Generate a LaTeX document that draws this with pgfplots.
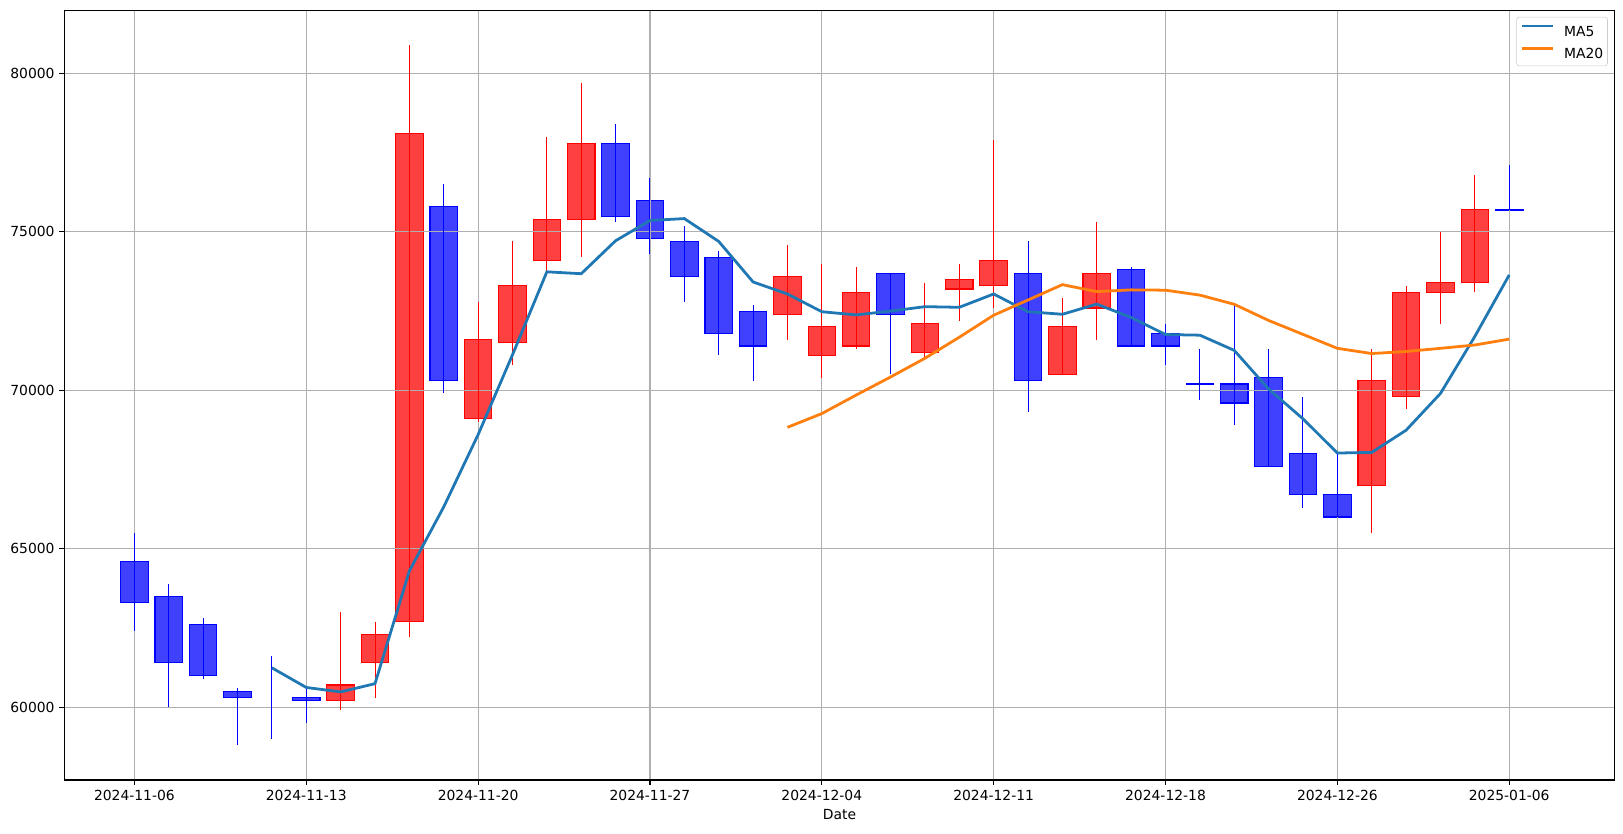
\documentclass[border=0pt]{standalone}
\usepackage{pgfplots}
\pgfplotsset{compat=1.18}
\usepackage{pgfplotstable}
\usepackage{fontspec}
\setmainfont{DejaVu Sans}
\definecolor{tabblue}{HTML}{1F77B4}
\definecolor{taborange}{HTML}{FF7F0E}
\definecolor{gridgray}{HTML}{B0B0B0}
\definecolor{upedge}{HTML}{FF0000}
\definecolor{upfill}{HTML}{FF4040}
\definecolor{dnedge}{HTML}{0000FF}
\definecolor{dnfill}{HTML}{4040FF}

% rising candles (red)
\pgfplotstableread{
x open high low close
6 60200 63000 59900 60700
7 61400 62700 60300 62300
8 62700 80900 62200 78100
10 69100 72800 69000 71600
11 71500 74700 70800 73300
12 74100 78000 73600 75400
13 75400 79700 74200 77800
19 72400 74600 71600 73600
20 71100 74000 70400 72000
21 71400 73900 71300 73100
23 71200 73400 71000 72100
24 73200 74000 72200 73500
25 73300 77900 72600 74100
27 70500 72900 70500 72000
28 72600 75300 71600 73700
36 67000 71300 65500 70300
37 69800 73300 69400 73100
38 73100 75000 72100 73400
39 73400 76800 73100 75700
}\upc

% falling / flat candles (blue)
\pgfplotstableread{
x open high low close
0 64600 65500 62400 63300
1 63500 63900 60000 61400
2 62600 62800 60900 61000
3 60500 60600 58800 60300
5 60300 60600 59500 60200
9 75800 76500 69900 70300
14 77800 78400 75300 75500
15 76000 76700 74300 74800
16 74700 75200 72800 73600
17 74200 74400 71100 71800
18 72500 72700 70300 71400
22 73700 73700 70500 72400
26 73700 74700 69300 70300
29 73800 73900 71400 71400
30 71800 72100 70800 71400
31 70200 71300 69700 70200
32 70200 72700 68900 69600
33 70400 71300 67600 67600
34 68000 69800 66300 66700
35 66700 68000 66000 66000
40 75700 77100 75700 75700
}\dnc

% candle with no visible body (wick only)
\pgfplotstableread{
x high low close
4 61600 59000 60200
}\wk

\pgfplotstableread{
x ma
4 61240
5 60620
6 60480
7 60740
8 64300
9 66320
10 68600
11 71120
12 73740
13 73680
14 74720
15 75360
16 75420
17 74700
18 73420
19 73040
20 72480
21 72380
22 72500
23 72640
24 72620
25 73040
26 72480
27 72400
28 72720
29 72300
30 71760
31 71740
32 71260
33 70040
34 69100
35 68020
36 68040
37 68740
38 69900
39 71700
40 73640
}\mafive

\pgfplotstableread{
x ma
19 68830
20 69265
21 69850
22 70420
23 71010
24 71675
25 72370
26 72850
27 73335
28 73115
29 73170
30 73160
31 73005
32 72715
33 72205
34 71765
35 71325
36 71160
37 71225
38 71325
39 71430
40 71615
}\matwenty

\begin{document}
\begin{tikzpicture}
\begin{axis}[
  at={(0pt,0pt)}, anchor=south west,
  scale only axis, width=1116.3pt, height=554.3pt,
  xmin=-2.04, xmax=43.07, ymin=57700, ymax=82000,
  set layers,
  xtick={0,5,10,15,20,25,30,35,40},
  xticklabels={2024-11-06,2024-11-13,2024-11-20,2024-11-27,2024-12-04,2024-12-11,2024-12-18,2024-12-26,2025-01-06},
  ytick={60000,65000,70000,75000,80000},
  scaled y ticks=false,
  yticklabel style={/pgf/number format/.cd, 1000 sep={}, assume math mode=true},
  tick label style={font=\fontsize{10}{12}\selectfont},
  xlabel={Date},
  xlabel style={font=\fontsize{10}{12}\selectfont},
  grid=major,
  grid style={gridgray, line width=0.8pt},
  axis line style={line width=0.8pt},
  every tick/.style={black, line width=0.8pt},
  tick align=outside, major tick length=3.5pt, tick pos=left,
  legend style={at={(1,1)}, anchor=north east, xshift=-5pt, yshift=-4.8pt,
    draw=black!20, fill=white, rounded corners=2pt,
    inner xsep=3pt, inner ysep=5.4pt, row sep=7.8pt,
    nodes={inner sep=0pt, text height=7.3pt, text depth=0pt},
    /tikz/every odd column/.append style={column sep=7.2pt},
    font=\fontsize{10}{12}\selectfont, cells={anchor=west}},
  legend image code/.code={\draw[#1] (0pt,3.65pt) -- (22pt,3.65pt);},
]
% bodies (below the grid)
\addplot [forget plot, on layer=axis background, draw=none, no markers,
  error bars/.cd, y dir=both, y explicit, error mark=none,
  error bar style={line width=20.6pt, draw=upedge}]
  table [x=x, y expr={(\thisrow{open}+\thisrow{close})/2},
         y error expr={abs(\thisrow{close}-\thisrow{open})/2+17.5}] \upc;
\addplot [forget plot, on layer=axis background, draw=none, no markers,
  error bars/.cd, y dir=both, y explicit, error mark=none,
  error bar style={line width=19.0pt, draw=upfill}]
  table [x=x, y expr={(\thisrow{open}+\thisrow{close})/2},
         y error expr={max(abs(\thisrow{close}-\thisrow{open})/2-17.5,0)}] \upc;
\addplot [forget plot, on layer=axis background, draw=none, no markers,
  error bars/.cd, y dir=both, y explicit, error mark=none,
  error bar style={line width=20.6pt, draw=dnedge}]
  table [x=x, y expr={(\thisrow{open}+\thisrow{close})/2},
         y error expr={abs(\thisrow{close}-\thisrow{open})/2+17.5}] \dnc;
\addplot [forget plot, on layer=axis background, draw=none, no markers,
  error bars/.cd, y dir=both, y explicit, error mark=none,
  error bar style={line width=19.0pt, draw=dnfill}]
  table [x=x, y expr={(\thisrow{open}+\thisrow{close})/2},
         y error expr={max(abs(\thisrow{close}-\thisrow{open})/2-17.5,0)}] \dnc;
% wicks
\addplot [forget plot, draw=none, no markers,
  error bars/.cd, y dir=plus, y explicit, error mark=none,
  error bar style={line width=0.72pt, draw=upedge}]
  table [x=x, y=low, y error plus expr={\thisrow{high}-\thisrow{low}}] \upc;
\addplot [forget plot, draw=none, no markers,
  error bars/.cd, y dir=plus, y explicit, error mark=none,
  error bar style={line width=0.72pt, draw=dnedge}]
  table [x=x, y=low, y error plus expr={\thisrow{high}-\thisrow{low}}] \dnc;
\addplot [forget plot, draw=none, no markers,
  error bars/.cd, y dir=plus, y explicit, error mark=none,
  error bar style={line width=0.72pt, draw=dnedge}]
  table [x=x, y=low, y error plus expr={\thisrow{high}-\thisrow{low}}] \wk;
% moving averages
\addplot [tabblue, line width=2pt, mark=none] table [x=x, y=ma] \mafive;
\addlegendentry{MA5}
\addplot [taborange, line width=2pt, mark=none] table [x=x, y=ma] \matwenty;
\addlegendentry{MA20}
\end{axis}
\path (-46.3pt,-38.2pt) rectangle (1122.3pt,561.6pt);
\end{tikzpicture}
\end{document}
